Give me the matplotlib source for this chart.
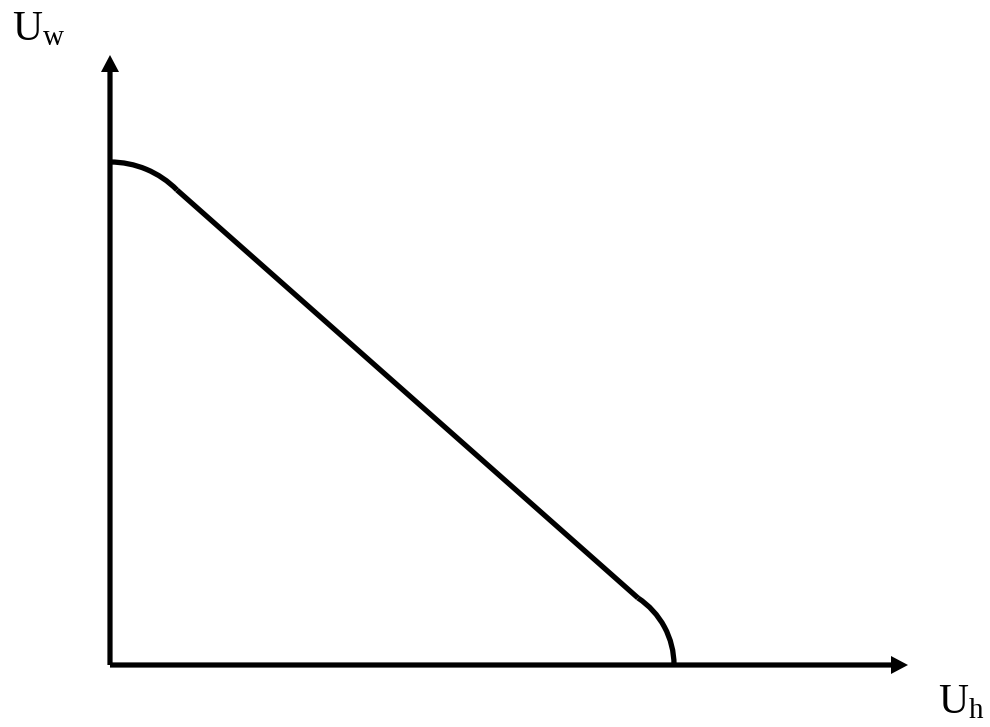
import numpy as np
import matplotlib
matplotlib.use("Agg")
import matplotlib.pyplot as plt
from matplotlib.patches import Arc

plt.rcParams['font.family'] = ['Liberation Serif', 'DejaVu Serif']
plt.rcParams['mathtext.fontset'] = 'custom'
plt.rcParams['mathtext.rm'] = 'Liberation Serif'
plt.rcParams['mathtext.it'] = 'Liberation Serif:italic'

# axis extents (origin at 0,0)
uh_max = 798
uw_max = 610

# curve: top arc, straight segment, bottom arc
uw_intercept = 503          # where the curve meets the Uw axis
top_arc_end = (67, 475)
line_end = (528, 67)
uh_intercept = 564          # where the curve meets the Uh axis

fig = plt.figure(figsize=(9.9, 7.27), dpi=100)
ax = fig.add_axes([0, 0, 1, 1])
ax.set_xlim(-110, 880)
ax.set_ylim(-62, 665)
ax.axis('off')

lw = 3.8
# axes with arrows
ax.arrow(0, 0, 0, uw_max, width=5.2, head_width=18, head_length=17,
         length_includes_head=True, color='black', lw=0)
ax.arrow(0, 0, uh_max, 0, width=5.2, head_width=18, head_length=17,
         length_includes_head=True, color='black', lw=0)

# top arc: horizontal tangent at the Uw axis
x1, y1 = top_arc_end
r1 = (x1**2 + (uw_intercept - y1)**2) / (2 * (uw_intercept - y1))
c1 = (0, uw_intercept - r1)
a1 = np.degrees(np.arctan2(y1 - c1[1], x1 - c1[0]))
ax.add_patch(Arc(c1, 2 * r1, 2 * r1, theta1=a1, theta2=90, lw=lw, color='black'))

# straight part
ax.plot([top_arc_end[0], line_end[0]], [top_arc_end[1], line_end[1]],
        color='black', lw=lw, solid_capstyle='butt')

# bottom arc: vertical tangent at the Uh axis
x2, y2 = line_end
d = uh_intercept - x2
r2 = (d**2 + y2**2) / (2 * d)
c2 = (uh_intercept - r2, 0)
a2 = np.degrees(np.arctan2(y2 - c2[1], x2 - c2[0]))
ax.add_patch(Arc(c2, 2 * r2, 2 * r2, theta1=0, theta2=a2, lw=lw, color='black'))

ax.text(-98, 625, r'$\mathrm{U_w}$', fontsize=30, ha='left', va='baseline')
ax.text(828, -48, r'$\mathrm{U_h}$', fontsize=30, ha='left', va='baseline')

fig.savefig('out.png', dpi=100)
